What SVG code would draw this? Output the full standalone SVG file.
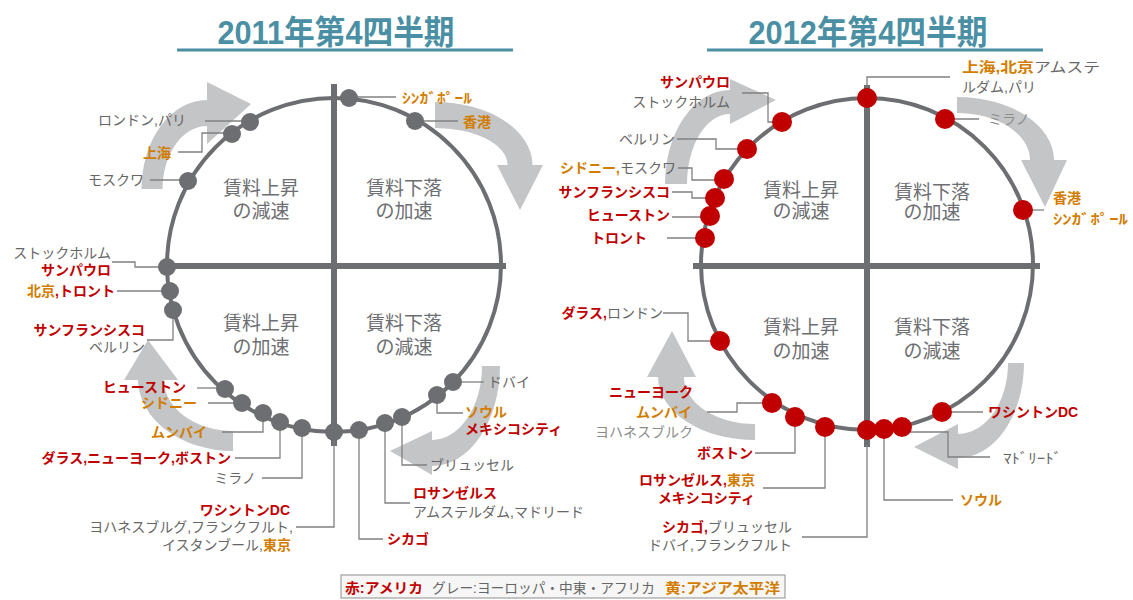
<svg xmlns="http://www.w3.org/2000/svg" width="1133" height="600" viewBox="0 0 1133 600">
<style>
.t{font-family:"Liberation Sans","Noto Sans CJK JP",sans-serif;font-size:14px}
.e{text-anchor:end}
.g{fill:#666666}
.lg{fill:#8c8c8c}
.r{fill:#c00000;font-weight:700}
.o{fill:#d27d00;font-weight:700}
.q{font-family:"Liberation Sans","Noto Sans CJK JP",sans-serif;font-size:19px;fill:#6d6e71;text-anchor:middle}
.ttl{font-family:"Liberation Sans","Noto Sans CJK JP",sans-serif;font-size:33px;font-weight:700;fill:#4a8fa3;text-anchor:middle}
.ul{stroke:#4a8fa3;stroke-width:3}
.ring{fill:none;stroke:#6d6e71;stroke-width:4}
.ax{stroke:#6d6e71;stroke-width:6}
.ld{fill:none;stroke:#808080;stroke-width:1.3}
.arr{fill:#c4c5c7}
.dg{fill:#6d6e71}
.dr{fill:#c00000}
</style>

<g id="titles">
<text class="ttl" x="336" y="44" textLength="237" lengthAdjust="spacingAndGlyphs">2011年第4四半期</text>
<line class="ul" x1="177" y1="50" x2="513" y2="50"/>
<text class="ttl" x="868" y="44" textLength="239" lengthAdjust="spacingAndGlyphs">2012年第4四半期</text>
<line class="ul" x1="707" y1="50" x2="1043" y2="50"/>
</g>

<g id="arrows">
<path class="arr" d="M141.5 189 A65.5 89 0 0 1 207 100 L207 82 L251 104 L207 144 L207 126 A44.5 63 0 0 0 162.5 189 Z"/>
<path class="arr" d="M435 102 A97.5 63 0 0 1 532.5 165 L543 165 L520 210 L497 165 L507.5 165 A72.5 37 0 0 0 435 128 Z"/>
<path class="arr" d="M233 451 A95 72 0 0 1 138 380 L124 380 L148 340 L178 380 L164 380 A69 51 0 0 0 233 431 Z"/>
<path class="arr" d="M500 366 A68 100 0 0 1 432 466 L432 475 L390 451 L432 431 L432 440 A50 74 0 0 0 482 366 Z"/>
<path class="arr" d="M665 184 A65 94 0 0 1 730 90 L730 79 L776 100 L730 124 L730 114 A43 70 0 0 0 687 184 Z"/>
<path class="arr" d="M957 97 A97 63 0 0 1 1054 160 L1067 160 L1045 207 L1021 160 L1030 160 A73 47 0 0 0 957 113 Z"/>
<path class="arr" d="M755 440 A97 63 0 0 1 658 377 L647 377 L672 331 L696 377 L684 377 A71 47 0 0 0 755 424 Z"/>
<path class="arr" d="M1024 363 A66 95 0 0 1 958 458 L958 469 L914 447 L958 424 L958 434 A50 71 0 0 0 1008 363 Z"/>
</g>

<g id="frame-2011">
<circle class="ring" cx="334" cy="265" r="167"/>
<line class="ax" x1="165" y1="266" x2="506" y2="266"/>
<line class="ax" x1="334" y1="84" x2="334" y2="446"/>
<text class="q" x="261" y="195">賃料上昇</text>
<text class="q" x="261" y="218">の減速</text>
<text class="q" x="404" y="195">賃料下落</text>
<text class="q" x="404" y="218">の加速</text>
<text class="q" x="261" y="330">賃料上昇</text>
<text class="q" x="261" y="354">の加速</text>
<text class="q" x="404" y="330">賃料下落</text>
<text class="q" x="404" y="354">の減速</text>
</g>

<g id="frame-2012">
<circle class="ring" cx="867" cy="264" r="166"/>
<line class="ax" x1="693" y1="266" x2="1040" y2="266"/>
<line class="ax" x1="867" y1="85" x2="867" y2="447"/>
<text class="q" x="801" y="197">賃料上昇</text>
<text class="q" x="801" y="218">の減速</text>
<text class="q" x="932" y="199">賃料下落</text>
<text class="q" x="932" y="219">の加速</text>
<text class="q" x="801" y="334">賃料上昇</text>
<text class="q" x="801" y="358">の加速</text>
<text class="q" x="932" y="334">賃料下落</text>
<text class="q" x="932" y="358">の減速</text>
</g>

<g id="connectors">
<path class="ld" d="M349 97 H396"/>
<path class="ld" d="M415 121 H458"/>
<path class="ld" d="M250 121 H205"/>
<path class="ld" d="M232 133 H202 V152 H178"/>
<path class="ld" d="M188 180 H150"/>
<path class="ld" d="M112 262 H135 V267 H167"/>
<path class="ld" d="M117 291 H170"/>
<path class="ld" d="M173 310 V340 H147"/>
<path class="ld" d="M197 388 H225"/>
<path class="ld" d="M208 403 H242"/>
<path class="ld" d="M263 413 V432 H222"/>
<path class="ld" d="M280 422 V458 H235"/>
<path class="ld" d="M302 428 V478 H262"/>
<path class="ld" d="M334 440 V527 H296"/>
<path class="ld" d="M359 430 V539 H383"/>
<path class="ld" d="M385 423 V503 H410"/>
<path class="ld" d="M402 417 V465 H427"/>
<path class="ld" d="M437 395 V413 H463"/>
<path class="ld" d="M453 382 H484"/>

<path class="ld" d="M867 98 V77 H950"/>
<path class="ld" d="M945 119 H979"/>
<path class="ld" d="M1023 210 H1044"/>
<path class="ld" d="M942 412 H983"/>
<path class="ld" d="M902 432 H948 V457 H990"/>
<path class="ld" d="M884 429 V500 H953"/>
<path class="ld" d="M867 445 V537 H802"/>
<path class="ld" d="M825 427 V488 H763"/>
<path class="ld" d="M795 417 V453 H755"/>
<path class="ld" d="M772 403 H737 V412 H707"/>
<path class="ld" d="M720 341 H688 V313 H663"/>
<path class="ld" d="M705 238 H667"/>
<path class="ld" d="M710 217 H672"/>
<path class="ld" d="M715 198 H692 V192 H672"/>
<path class="ld" d="M724 180 H692 V168 H678"/>
<path class="ld" d="M747 149 H716 V139 H677"/>
<path class="ld" d="M782 122 H768 V93 H742"/>
</g>

<!-- 2011 nodes -->
<g id="n11-singapore"><circle class="dg" cx="349" cy="98" r="9"/><text class="t o" x="402" y="103" font-size="17" textLength="70" lengthAdjust="spacingAndGlyphs">ｼﾝｶﾞﾎﾟｰﾙ</text></g>
<g id="n11-hongkong"><circle class="dg" cx="415" cy="121" r="9"/><text class="t o" x="463" y="127" font-size="17">香港</text></g>
<g id="n11-london"><circle class="dg" cx="250" cy="122" r="9"/><text class="t g e" x="186" y="125">ロンドン,パリ</text></g>
<g id="n11-shanghai"><circle class="dg" cx="232" cy="134" r="9"/><text class="t o e" x="171" y="158" font-size="16">上海</text></g>
<g id="n11-moscow"><circle class="dg" cx="188" cy="181" r="9"/><text class="t g e" x="144" y="185">モスクワ</text></g>
<g id="n11-stockholm"><circle class="dg" cx="167" cy="267" r="9"/><text class="t g e" x="111" y="258">ストックホルム</text><text class="t r e" x="111" y="275" font-size="15">サンパウロ</text></g>
<g id="n11-beijing"><circle class="dg" cx="170" cy="291" r="9"/><text class="t e" x="115" y="296"><tspan class="o">北京</tspan><tspan class="r">,トロント</tspan></text></g>
<g id="n11-sanfrancisco"><circle class="dg" cx="173" cy="310" r="9"/><text class="t r e" x="145" y="335">サンフランシスコ</text><text class="t g e" x="145" y="352">ベルリン</text></g>
<g id="n11-houston"><circle class="dg" cx="225" cy="389" r="9"/><text class="t r e" x="186" y="392">ヒューストン</text></g>
<g id="n11-sydney"><circle class="dg" cx="242" cy="403" r="9"/><text class="t o e" x="197" y="408">シドニー</text></g>
<g id="n11-mumbai"><circle class="dg" cx="263" cy="413" r="9"/><text class="t o e" x="207" y="437">ムンバイ</text></g>
<g id="n11-dallas"><circle class="dg" cx="280" cy="422" r="9"/><text class="t r e" x="231" y="463">ダラス,ニューヨーク,ボストン</text></g>
<g id="n11-milan"><circle class="dg" cx="302" cy="428" r="9"/><text class="t g e" x="256" y="483">ミラノ</text></g>
<g id="n11-washington"><circle class="dg" cx="334" cy="432" r="9"/><text class="t r e" x="290" y="515">ワシントンDC</text><text class="t g e" x="293" y="532">ヨハネスブルグ,フランクフルト,</text><text class="t e" x="291" y="550"><tspan class="g">イスタンブール,</tspan><tspan class="o">東京</tspan></text></g>
<g id="n11-chicago"><circle class="dg" cx="359" cy="430" r="9"/><text class="t r" x="387" y="544">シカゴ</text></g>
<g id="n11-losangeles"><circle class="dg" cx="385" cy="423" r="9"/><text class="t r" x="413" y="498">ロサンゼルス</text><text class="t g" x="413" y="517">アムステルダム,マドリード</text></g>
<g id="n11-brussels"><circle class="dg" cx="402" cy="417" r="9"/><text class="t g" x="430" y="470">ブリュッセル</text></g>
<g id="n11-seoul"><circle class="dg" cx="437" cy="395" r="9"/><text class="t o" x="465" y="417">ソウル</text><text class="t r" x="465" y="434">メキシコシティ</text></g>
<g id="n11-dubai"><circle class="dg" cx="453" cy="382" r="9"/><text class="t g" x="488" y="387">ドバイ</text></g>

<!-- 2012 nodes -->
<g id="n12-saopaulo"><circle class="dr" cx="782" cy="122" r="10"/><text class="t r e" x="730" y="87" font-size="15">サンパウロ</text><text class="t g e" x="730" y="107">ストックホルム</text></g>
<g id="n12-berlin"><circle class="dr" cx="747" cy="149" r="10"/><text class="t g e" x="675" y="144">ベルリン</text></g>
<g id="n12-sydney"><circle class="dr" cx="724" cy="179" r="10"/><text class="t e" x="676" y="173"><tspan class="o">シドニー,</tspan><tspan class="g">モスクワ</tspan></text></g>
<g id="n12-sanfrancisco"><circle class="dr" cx="715" cy="198" r="10"/><text class="t r e" x="670" y="197">サンフランシスコ</text></g>
<g id="n12-houston"><circle class="dr" cx="710" cy="216" r="10"/><text class="t r e" x="670" y="220">ヒューストン</text></g>
<g id="n12-toronto"><circle class="dr" cx="705" cy="238" r="10"/><text class="t r e" x="647" y="243">トロント</text></g>
<g id="n12-shanghai"><circle class="dr" cx="867" cy="98" r="10"/><text class="t" x="962" y="72" textLength="138" lengthAdjust="spacingAndGlyphs"><tspan class="o">上海,北京</tspan><tspan class="g">アムステ</tspan></text><text class="t g" x="962" y="92">ルダム,パリ</text></g>
<g id="n12-milan"><circle class="dr" cx="945" cy="119" r="10"/><text class="t lg" x="988" y="124" font-size="13">ミラノ</text></g>
<g id="n12-hongkong"><circle class="dr" cx="1023" cy="210" r="10"/><text class="t o" x="1053" y="203" font-size="17">香港</text><text class="t o" x="1053" y="224" font-size="17" textLength="75" lengthAdjust="spacingAndGlyphs">ｼﾝｶﾞﾎﾟｰﾙ</text></g>
<g id="n12-washington"><circle class="dr" cx="942" cy="412" r="10"/><text class="t r" x="988" y="417">ワシントンDC</text></g>
<g id="n12-madrid"><circle class="dr" cx="902" cy="427" r="10"/><text class="t g" x="1003" y="463" font-size="16" textLength="59" lengthAdjust="spacingAndGlyphs">ﾏﾄﾞﾘｰﾄﾞ</text></g>
<g id="n12-seoul"><circle class="dr" cx="884" cy="429" r="10"/><text class="t o" x="960" y="505">ソウル</text></g>
<g id="n12-chicago"><circle class="dr" cx="867" cy="430" r="10"/><text class="t e" x="792" y="532"><tspan class="r">シカゴ,</tspan><tspan class="g">ブリュッセル</tspan></text><text class="t g e" x="792" y="550">ドバイ,フランクフルト</text></g>
<g id="n12-losangeles"><circle class="dr" cx="825" cy="427" r="10"/><text class="t e" x="755" y="485"><tspan class="r">ロサンゼルス,</tspan><tspan class="o">東京</tspan></text><text class="t r e" x="755" y="503">メキシコシティ</text></g>
<g id="n12-boston"><circle class="dr" cx="795" cy="417" r="10"/><text class="t r e" x="753" y="458">ボストン</text></g>
<g id="n12-newyork"><circle class="dr" cx="772" cy="403" r="10"/><text class="t r e" x="693" y="397">ニューヨーク</text><text class="t o e" x="692" y="417">ムンバイ</text><text class="t lg e" x="693" y="437">ヨハネスブルク</text></g>
<g id="n12-dallas"><circle class="dr" cx="720" cy="341" r="10"/><text class="t e" x="663" y="318"><tspan class="r">ダラス,</tspan><tspan class="g">ロンドン</tspan></text></g>

<g id="legend">
<rect x="341" y="575" width="444" height="23" fill="#f6f6f6" stroke="#a0a0a0" stroke-width="1.2"/>
<text class="t r" x="345" y="593" textLength="78" lengthAdjust="spacingAndGlyphs">赤:アメリカ</text>
<text class="t g" x="432" y="593" textLength="223" lengthAdjust="spacingAndGlyphs">グレー:ヨーロッパ・中東・アフリカ</text>
<text class="t o" x="665" y="593" textLength="115" lengthAdjust="spacingAndGlyphs">黄:アジア太平洋</text>
</g>
</svg>
